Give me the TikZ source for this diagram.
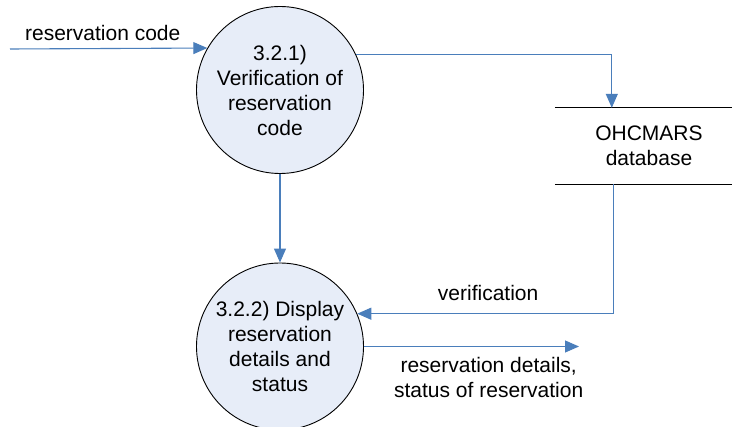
\documentclass[tikz,border=0pt]{standalone}
\usepackage{fontspec}
\setmainfont{Liberation Sans}
\usetikzlibrary{arrows.meta}
\definecolor{flowblue}{RGB}{74,126,187}
\definecolor{bubblefill}{RGB}{231,237,248}
\tikzset{
  process/.style={circle,draw=black,line width=0.9pt,fill=bubblefill,minimum size=167pt,inner sep=0pt,align=center,font=\fontsize{21}{25}\selectfont},
  store/.style={draw=none,minimum width=188pt,minimum height=76pt,inner sep=0pt,align=center,font=\fontsize{21}{25}\selectfont},
  storeline/.style={draw=black,line width=0.9pt},
  flow/.style={draw=flowblue,line width=1.1pt,-{Triangle[length=14pt,width=12pt]}},
  lbl/.style={font=\fontsize{21}{25}\selectfont,inner sep=0pt,align=center}
}
\begin{document}
\begin{tikzpicture}[x=1pt,y=-1pt]
\useasboundingbox (0,0) rectangle (732,427);
\clip (0,0) rectangle (732,427);
\fill[white] (0,0) rectangle (732,427);
\node[process] (c1) at (280,90) {3.2.1)\\Verification of\\reservation\\code};
\node[process] (c2) at (280,346.5) {3.2.2) Display\\reservation\\details and\\status};
\node[store] (db) at (649,146) {OHCMARS\\database};
\draw[storeline] (db.north west) -- (db.north east);
\draw[storeline] (db.south west) -- (db.south east);
\coordinate (in) at (10,49);
\coordinate (out) at (579,346.5);
\draw[flow] (in) -- (c1.150.6) node[lbl,pos=0.47,above=7pt] {reservation code};
\draw[flow] (c1.25.5) -| ([xshift=57pt]db.north west);
\draw[flow] ([xshift=59pt]db.south west) |- (c2.23.6) node[lbl,pos=0.745,above=12pt] {verification};
\draw[flow] (c1.south) -- (c2.north);
\draw[flow] (c2.east) -- (out) node[lbl,pos=0.58,below=10pt] {reservation details,\\status of reservation};
\end{tikzpicture}
\end{document}
